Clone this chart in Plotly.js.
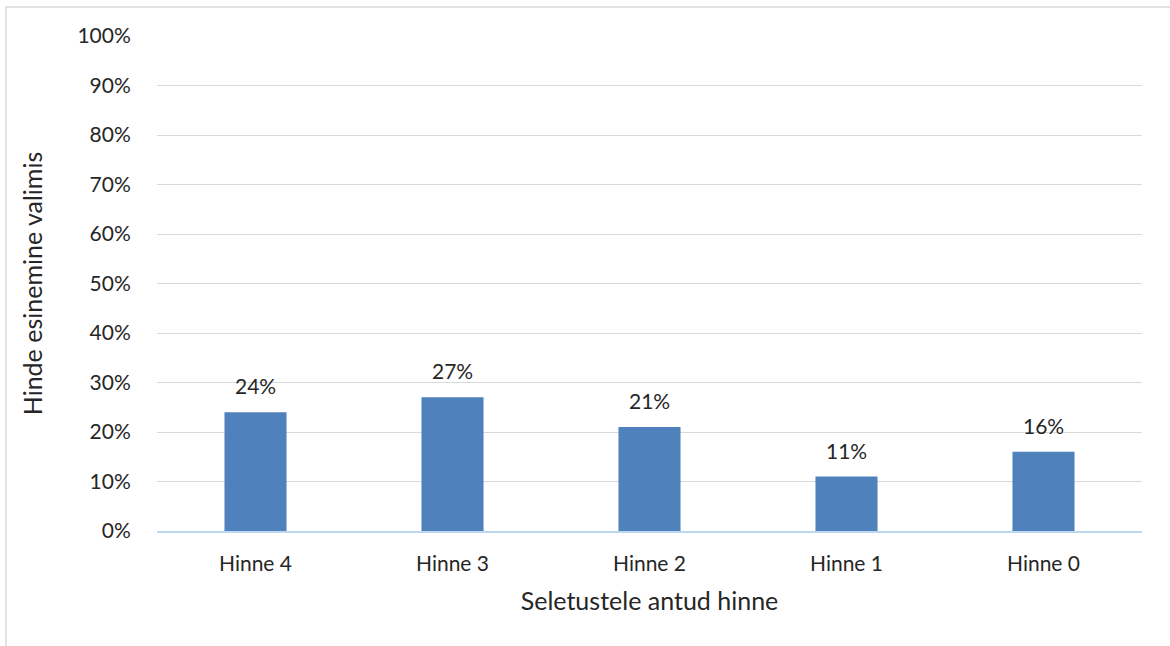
<!DOCTYPE html>
<html>
<head>
<meta charset="utf-8">
<script src="https://cdn.plot.ly/plotly-3.0.1.min.js"></script>
<style>
  html, body { margin: 0; padding: 0; background: #ffffff; }
  #chart { width: 1170px; height: 646px; }
</style>
</head>
<body>
<div id="chart"></div>
<script>
// Grade categories and the share of first choices for each grade
const categories = ["Hinne 4", "Hinne 3", "Hinne 2", "Hinne 1", "Hinne 0"];
const shares = [0.24, 0.27, 0.21, 0.11, 0.16];
const yTickValues = [0, 0.1, 0.2, 0.3, 0.4, 0.5, 0.6, 0.7, 0.8, 0.9, 1.0];

const FONT = "Lato, 'Open Sans', sans-serif";
const TEXT = "#262626";

const trace = {
  type: "bar",
  x: categories,
  y: shares,
  marker: { color: "#4F81BD" },
  hoverinfo: "x+y"
};

// Percentage labels sitting above each bar
const valueLabels = categories.map((c, i) => ({
  x: c,
  y: shares[i],
  xref: "x",
  yref: "y",
  text: Math.round(shares[i] * 100) + "%",
  showarrow: false,
  yanchor: "bottom",
  yshift: 12,
  font: { family: FONT, size: 21, color: TEXT }
}));

const layout = {
  width: 1170,
  height: 646,
  margin: { l: 157, r: 28, t: 36, b: 115 },
  paper_bgcolor: "#ffffff",
  plot_bgcolor: "#ffffff",
  bargap: 0.685,
  showlegend: false,
  font: { family: FONT, color: TEXT },
  xaxis: {
    type: "category",
    showgrid: false,
    showline: true,
    linecolor: "#BDD7EE",
    linewidth: 2,
    ticks: "outside",
    ticklen: 13,
    tickcolor: "rgba(0,0,0,0)",
    tickfont: { family: FONT, size: 21, color: TEXT },
    title: { text: "Seletustele antud hinne", font: { family: FONT, size: 25, color: TEXT }, standoff: 18 }
  },
  yaxis: {
    range: [0, 1],
    tickvals: yTickValues,
    tickformat: ".0%",
    showgrid: true,
    gridcolor: "#D9D9D9",
    gridwidth: 1,
    zeroline: false,
    showline: false,
    ticks: "outside",
    ticklen: 21,
    tickcolor: "rgba(0,0,0,0)",
    tickfont: { family: FONT, size: 21, color: TEXT },
    title: { text: "Hinde esinemine valimis", font: { family: FONT, size: 25, color: TEXT }, standoff: 27 }
  },
  annotations: valueLabels,
  shapes: [{
    type: "rect",
    xref: "paper", yref: "paper",
    x0: -0.1533, x1: 1.05,
    y0: -0.3, y1: 1.0586,
    line: { color: "#D9D9D9", width: 1.5 },
    fillcolor: "rgba(0,0,0,0)",
    layer: "below"
  }]
};

Plotly.newPlot("chart", [trace], layout, { displayModeBar: false, staticPlot: true });
</script>
</body>
</html>
